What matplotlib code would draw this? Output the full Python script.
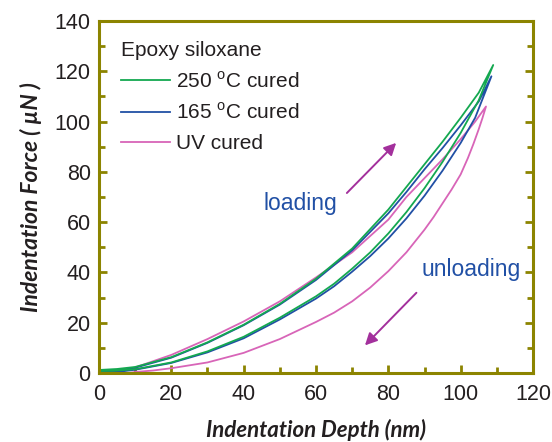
import matplotlib
matplotlib.use("Agg")
import matplotlib.pyplot as plt

plt.rcParams['font.family'] = ['Liberation Sans', 'DejaVu Sans']
plt.rcParams['mathtext.fontset'] = 'custom'
plt.rcParams['mathtext.rm'] = 'Liberation Sans'

# 250 C cured
g_load_x = [0, 5, 10, 20, 30, 40, 50, 60, 70, 80, 85, 90, 95, 100, 105, 109]
g_load_y = [1.2, 1.6, 2.4, 6.3, 12.2, 19.2, 27.5, 37.5, 49.5, 65, 74, 83, 92, 101.5, 111.5, 122.5]
g_unl_x = [109, 105, 100, 95, 90, 85, 80, 75, 70, 65, 60, 50, 40, 30, 20, 10, 4, 0]
g_unl_y = [122.5, 108.5, 95.5, 84, 73.5, 64, 55.5, 48, 41.5, 35.5, 30.5, 22, 14.4, 8.6, 4.2, 1.5, 0.9, 0.8]

# 165 C cured
b_load_x = [0, 5, 10, 20, 30, 40, 50, 60, 70, 80, 85, 90, 95, 100, 105, 108.5]
b_load_y = [0.3, 0.9, 2.1, 6.1, 12, 19, 27.2, 37, 48.8, 63.5, 72, 81, 89.5, 98.5, 108, 118]
b_unl_x = [108.5, 104, 100, 95, 90, 85, 80, 75, 70, 65, 60, 50, 40, 30, 20, 10, 5, 0]
b_unl_y = [118, 101.5, 91.5, 80.5, 70.5, 61.5, 53.5, 46.5, 40.3, 34.5, 29.6, 21.3, 13.8, 8.2, 4.0, 1.3, 0.4, 0.2]

# UV cured
p_load_x = [0, 5, 10, 20, 30, 40, 50, 60, 70, 80, 85, 90, 95, 100, 104, 107]
p_load_y = [0, 0.6, 2.2, 7.2, 13.5, 20.5, 28.5, 38, 48, 61, 70, 77.5, 85, 93, 100, 106]
p_unl_x = [107, 106, 105, 103.5, 102, 100, 97.5, 95, 92.5, 90, 85, 80, 75, 70, 65, 60, 50, 40, 30, 20, 15, 10, 8]
p_unl_y = [106, 101.3, 97, 91, 85.5, 79, 73, 67.5, 62, 57, 48, 40.5, 34, 28.5, 24, 20.3, 13.5, 8, 4.2, 1.9, 1.0, 0.4, 0]

green = '#14a850'
blue = '#2150a5'
pink = '#d865b8'
olive = '#8c8400'
arrow_c = '#a3309c'
text_c = '#231f20'

fig = plt.figure(figsize=(5.52, 4.42), dpi=100)
ax = fig.add_axes([0.1793, 0.1561, 0.7863, 0.7964])

ax.plot(p_load_x + p_unl_x, p_load_y + p_unl_y, color=pink, lw=1.3, label='UV cured')
ax.plot(b_load_x + b_unl_x, b_load_y + b_unl_y, color=blue, lw=1.3, label=r'165 $^\mathregular{o}$C cured')
ax.plot(g_load_x + g_unl_x, g_load_y + g_unl_y, color=green, lw=1.3, label=r'250 $^\mathregular{o}$C cured')

ax.annotate('', xy=(82.7, 92.3), xytext=(68, 70.8),
            arrowprops=dict(arrowstyle='-|>', color=arrow_c, lw=1.4, mutation_scale=18))
ax.annotate('', xy=(73.0, 10.2), xytext=(88.3, 32.7),
            arrowprops=dict(arrowstyle='-|>', color=arrow_c, lw=1.4, mutation_scale=18))
ax.text(55.6, 67.6, 'loading', color=blue, fontsize=16.5, ha='center', va='center')
ax.text(103, 41, 'unloading', color=blue, fontsize=16.5, ha='center', va='center')

ax.set_xlim(0, 120)
ax.set_ylim(0, 140)
ax.set_xticks(range(0, 121, 20))
ax.set_yticks(range(0, 141, 20))
ax.set_xticks(range(10, 120, 20), minor=True)
ax.set_yticks(range(10, 140, 20), minor=True)
ax.tick_params(which='both', direction='in', color=olive, width=2, labelsize=15.5,
               labelcolor=text_c, right=True, pad=6)
ax.tick_params(axis='x', which='both', pad=8)
ax.tick_params(which='major', length=6)
ax.tick_params(which='minor', length=4)
for s in ax.spines.values():
    s.set_color(olive)
    s.set_linewidth(2.2)

ax.set_xlabel('Indentation Depth (nm)', fontfamily=['Lato', 'DejaVu Sans'], fontweight='bold',
              fontstyle='italic', fontsize=16, color=text_c, labelpad=10)
ax.set_ylabel('Indentation Force ( \u00b5N )', fontfamily=['Lato', 'DejaVu Sans'], fontweight='bold',
              fontstyle='italic', fontsize=16.5, color=text_c, labelpad=9)

h, l = ax.get_legend_handles_labels()
leg = ax.legend(h[::-1], l[::-1], title='Epoxy siloxane', loc='upper left',
                bbox_to_anchor=(0.05, 0.944), frameon=False, fontsize=15,
                title_fontsize=15, handlelength=2.35, handletextpad=0.29,
                labelspacing=0.53, borderpad=0, borderaxespad=0, alignment='left')
for t in leg.get_texts():
    t.set_color(text_c)
leg.get_title().set_color(text_c)

fig.savefig('out.png', dpi=100)
